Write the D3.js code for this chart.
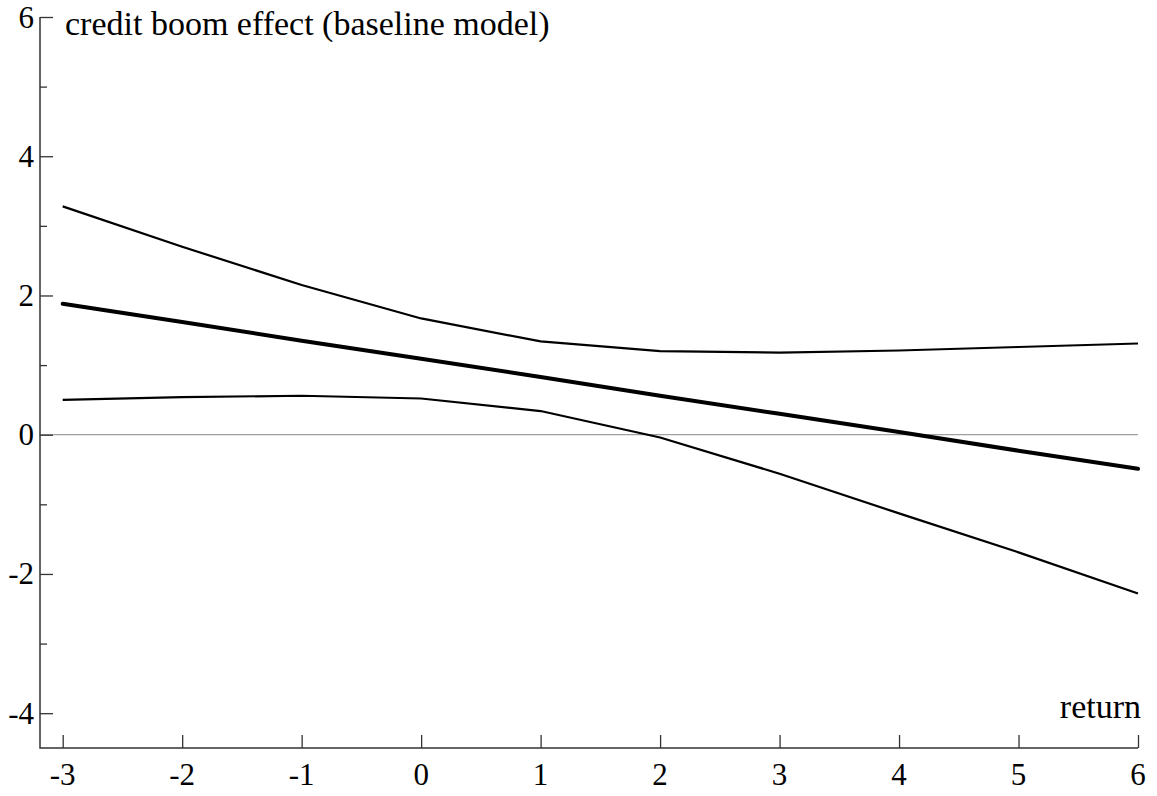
<!DOCTYPE html>
<html>
<head>
<meta charset="utf-8">
<script src="https://cdn.jsdelivr.net/npm/d3@7"></script>
<style>
  body { margin: 0; background: #fff; }
  svg text { font-family: "Liberation Serif", "Times New Roman", serif; fill: #000; }
</style>
</head>
<body>
<div id="chart"></div>
<script>
// returns on the x axis
const returns = [-3, -2, -1, 0, 1, 2, 3, 4, 5, 6];
// estimated effect and the band around it
const effect = [1.88, 1.62, 1.35, 1.09, 0.83, 0.56, 0.30, 0.04, -0.23, -0.49];
const upper  = [3.28, 2.70, 2.15, 1.67, 1.34, 1.20, 1.18, 1.21, 1.26, 1.31];
const lower  = [0.50, 0.54, 0.56, 0.52, 0.34, -0.04, -0.56, -1.13, -1.69, -2.28];
const yMajor = [-4, -2, 0, 2, 4, 6];
const yMinor = [-3, -1, 1, 3, 5];

const width = 1157, height = 796;
const plot = ({left: 40, right: 1138, top: 17, bottom: 748});

const svg = d3.select("#chart")
              .append("svg")
              .attr("width", width)
              .attr("height", height);

const x = d3.scaleLinear()
            .domain([-3.19, 6])
            .range([plot.left, plot.right]);
const y = d3.scaleLinear()
            .domain([-4.5, 6])
            .range([plot.bottom, plot.top]);

// zero line
svg.append("line")
   .attr("x1", plot.left).attr("x2", plot.right)
   .attr("y1", y(0)).attr("y2", y(0))
   .attr("stroke", "#a0a0a0")
   .attr("stroke-width", 1.2);

// axes, ticks point inward
const yAxis = d3.axisRight(y)
                .tickValues(yMajor)
                .tickSize(13)
                .tickFormat("");
const yAxisMinor = d3.axisRight(y)
                     .tickValues(yMinor)
                     .tickSize(7)
                     .tickFormat("");
const xAxis = d3.axisTop(x)
                .tickValues(returns)
                .tickSize(13)
                .tickFormat("");

svg.append("g")
   .attr("transform", `translate(${plot.left},0)`)
   .call(yAxis);
svg.append("g")
   .attr("transform", `translate(${plot.left},0)`)
   .call(yAxisMinor);
svg.append("g")
   .attr("transform", `translate(0,${plot.bottom})`)
   .call(xAxis);

svg.selectAll(".domain").remove();
svg.append("path")
   .attr("d", `M${plot.left},${plot.top}V${plot.bottom}H${plot.right}`)
   .attr("fill", "none")
   .attr("stroke", "#333")
   .attr("stroke-width", 1.5);
svg.selectAll(".tick line")
   .attr("stroke", "#333")
   .attr("stroke-width", 1.3);

// tick labels
svg.selectAll(".ylab")
   .data(yMajor)
   .enter()
   .append("text")
   .attr("class", "ylab")
   .attr("x", plot.left - 6)
   .attr("y", d => y(d))
   .attr("dy", "0.34em")
   .attr("text-anchor", "end")
   .style("font-size", "31px")
   .text(d => d);

svg.selectAll(".xlab")
   .data(returns)
   .enter()
   .append("text")
   .attr("class", "xlab")
   .attr("x", d => x(d))
   .attr("y", 785)
   .attr("text-anchor", "middle")
   .style("font-size", "31px")
   .text(d => d);

// titles
svg.append("text")
   .attr("x", 65)
   .attr("y", 35)
   .style("font-size", "34px")
   .text("credit boom effect (baseline model)");
svg.append("text")
   .attr("x", 1141)
   .attr("y", 718)
   .attr("text-anchor", "end")
   .style("font-size", "34px")
   .text("return");

// lines
const line = d3.line()
               .x((d, i) => x(returns[i]))
               .y(d => y(d));

svg.append("path")
   .datum(upper)
   .attr("d", line)
   .attr("fill", "none")
   .attr("stroke", "#000")
   .attr("stroke-width", 2.2);
svg.append("path")
   .datum(lower)
   .attr("d", line)
   .attr("fill", "none")
   .attr("stroke", "#000")
   .attr("stroke-width", 2.2);
svg.append("path")
   .datum(effect)
   .attr("d", line)
   .attr("fill", "none")
   .attr("stroke", "#000")
   .attr("stroke-width", 4)
   .attr("stroke-linecap", "round");
</script>
</body>
</html>
